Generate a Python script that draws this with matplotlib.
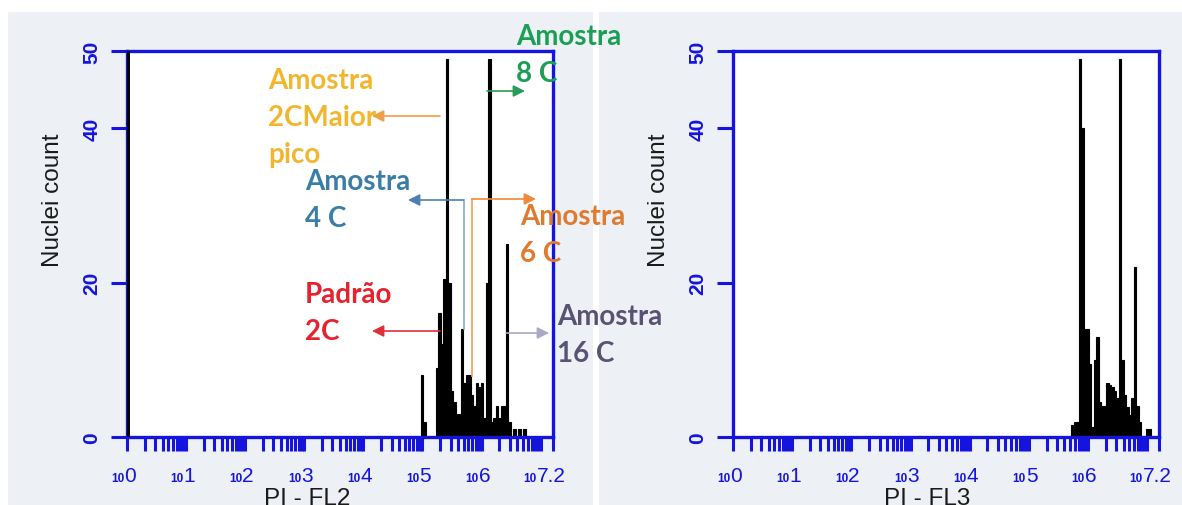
import matplotlib
matplotlib.use("Agg")
import matplotlib.pyplot as plt
import numpy as np
from matplotlib.transforms import Affine2D, blended_transform_factory
from matplotlib.patches import Rectangle, FancyArrowPatch
from matplotlib.lines import Line2D

# ---------------- data (log10 of PI fluorescence, nuclei counts) ----------------
bin_width = 0.0423  # width of one channel in decades

# PI - FL2 histogram
fl2_first_channel_count = 60          # off-scale pile-up at 10^0
fl2_bin_start = 4.97
fl2_counts = [8, 2, 0, 0, 0, 0, 9, 16, 12, 20.5, 49, 20, 6, 4.5, 3, 3, 14, 7, 8, 8,
              5.5, 4, 7, 6.5, 7, 2.5, 20, 49, 2, 2.5, 4, 2.5, 4, 4, 25, 2, 0, 1,
              0, 1, 0, 1]

# PI - FL3 histogram
fl3_bin_start = 5.716
fl3_counts = [1.5, 2, 2, 49, 40, 14, 14, 9.5, 1.3, 10, 13, 4.5, 4, 4, 7, 6.7, 6.5, 6,
              5, 49, 10, 5.4, 3.9, 2.8, 5, 22, 4, 2, 0, 0, 1, 1]

major_ticks = [0, 1, 2, 3, 4, 5, 6, 7, 7.2]
label_ticks = [0, 1, 2, 3, 4, 5, 6, 7.2]
label_exps = ["0", "1", "2", "3", "4", "5", "6", "7.2"]
y_ticks = [0, 20, 40, 50]
x_titles = ["PI - FL2", "PI - FL3"]
y_title = "Nuclei count"

# annotations on the FL2 panel: (lines, colour)
ann_texts = [
    (["Amostra", "8 C"], "#1c9e55"),
    (["Amostra", "2CMaior", "pico"], "#f2b62e"),
    (["Amostra", "4 C"], "#3a7ea6"),
    (["Amostra", "6 C"], "#e07a2e"),
    (["Padrão", "2C"], "#e5222d"),
    (["Amostra", "16 C"], "#5a5274"),
]

# ---------------- figure ----------------
W, H = 1182, 506
BLUE = "#1414dc"
PANEL = "#edf0f4"
fig = plt.figure(figsize=(W / 100, H / 100), dpi=100)
fig.patch.set_facecolor("white")
px = Affine2D().scale(1 / W, -1 / H).translate(0, 1) + fig.transFigure

for x0, x1 in [(8, 593), (599, 1182)]:
    fig.patches.append(Rectangle((x0, 13), x1 - x0, H - 13, transform=px,
                                 facecolor=PANEL, edgecolor="none", zorder=-5))

ax1 = fig.add_axes([127 / W, (H - 438) / H, 425.5 / W, 386 / H])
ax2 = fig.add_axes([733 / W, (H - 438) / H, 426 / W, 386 / H])
for ax in (ax1, ax2):
    ax.set_zorder(1)

minor = [k + np.log10(m) for k in range(8) for m in range(2, 10) if k + np.log10(m) < 7.2]

for ax, title, xc in [(ax1, x_titles[0], 0.423), (ax2, x_titles[1], 0.455)]:
    ax.set_facecolor("white")
    ax.set_xlim(0, 7.2)
    ax.set_ylim(0, 50)
    for s in ax.spines.values():
        s.set_color(BLUE)
        s.set_linewidth(2.4)
    ax.set_xticks(major_ticks)
    ax.set_xticks(minor, minor=True)
    ax.set_xticklabels([])
    ax.tick_params(axis="x", which="both", direction="out", length=10, width=2.2,
                   color=BLUE)
    ax.set_yticks(y_ticks)
    ax.tick_params(axis="y", direction="out", length=11.5, width=2.2, color=BLUE,
                   labelcolor=BLUE, labelsize=15, pad=7)
    for lab in ax.get_yticklabels():
        lab.set_rotation(90)
        lab.set_va("center")
        lab.set_fontweight("bold")
        lab.set_family("Liberation Sans")
    tr = blended_transform_factory(ax.transData, ax.transAxes)
    for k, e in zip(label_ticks, label_exps):
        off = -3 if len(e) == 1 else -16
        ax.annotate(e, xy=(k, 0), xycoords=tr, xytext=(off * 0.72, -44 * 0.72),
                    textcoords="offset points", ha="left", va="baseline",
                    fontsize=15, color=BLUE, family="Liberation Sans",
                    annotation_clip=False)
        ax.annotate("10", xy=(k, 0), xycoords=tr, xytext=(off * 0.72, -44.5 * 0.72),
                    textcoords="offset points", ha="right", va="baseline",
                    fontsize=8.5, fontweight="bold", color=BLUE,
                    family="Liberation Sans", annotation_clip=False)
    ax.set_ylabel(y_title, fontsize=17.5, color="#1a1a1a", family="Liberation Sans")
    ax.yaxis.set_label_coords(-0.148, 0.617)
    ax.set_xlabel(title, fontsize=17.5, color="#1a1a1a", family="Liberation Sans")
    ax.xaxis.set_label_coords(xc, -0.13)

# histograms
fl2_pos = fl2_bin_start + bin_width * np.arange(len(fl2_counts))
fl3_pos = fl3_bin_start + bin_width * np.arange(len(fl3_counts))
bar_style = dict(width=bin_width, align="edge", color="black", edgecolor="black",
                 linewidth=0.8, zorder=2)
ax1.bar(fl2_pos, fl2_counts, **bar_style)
ax1.bar([0], [fl2_first_channel_count], width=0.045, align="edge", color="black",
        linewidth=0, zorder=3)
ax2.bar(fl3_pos, fl3_counts, **bar_style)

# annotation texts (pixel positions: left, first baseline)
text_pos = [(516, 45), (268, 89), (305, 190), (520, 225), (305, 303), (557, 325)]
for (lines, col), (x, y) in zip(ann_texts, text_pos):
    for i, line in enumerate(lines):
        fig.text(x / W, 1 - (y + i * 37) / H, line, ha="left", va="baseline",
                 fontsize=20, fontweight="bold", family="Lato", color=col, zorder=10)


def arrow(p0, p1, col):
    fig.add_artist(FancyArrowPatch(p0, p1, transform=px,
                                   arrowstyle="-|>,head_length=0.7,head_width=0.35",
                                   mutation_scale=10, shrinkA=0, shrinkB=0, lw=1.2,
                                   color=col, zorder=9))


def seg(xs, ys, col):
    fig.add_artist(Line2D(xs, ys, transform=px, color=col, lw=1.2, zorder=9))


arrow((487, 92), (525, 92), "#2a9a5a")
arrow((440, 117), (372, 117), "#eda045")
seg([463.5, 463.5], [330, 201], "#86aacb")
arrow((463.5, 201), (408, 201), "#4d80b0")
seg([472, 472], [377, 200], "#f0a055")
arrow((472, 200), (536, 200), "#ec8a3a")
arrow((440, 332), (372, 332), "#e0303a")
arrow((506, 334), (549, 334), "#a8a8c8")

fig.savefig("out.png", dpi=100)
